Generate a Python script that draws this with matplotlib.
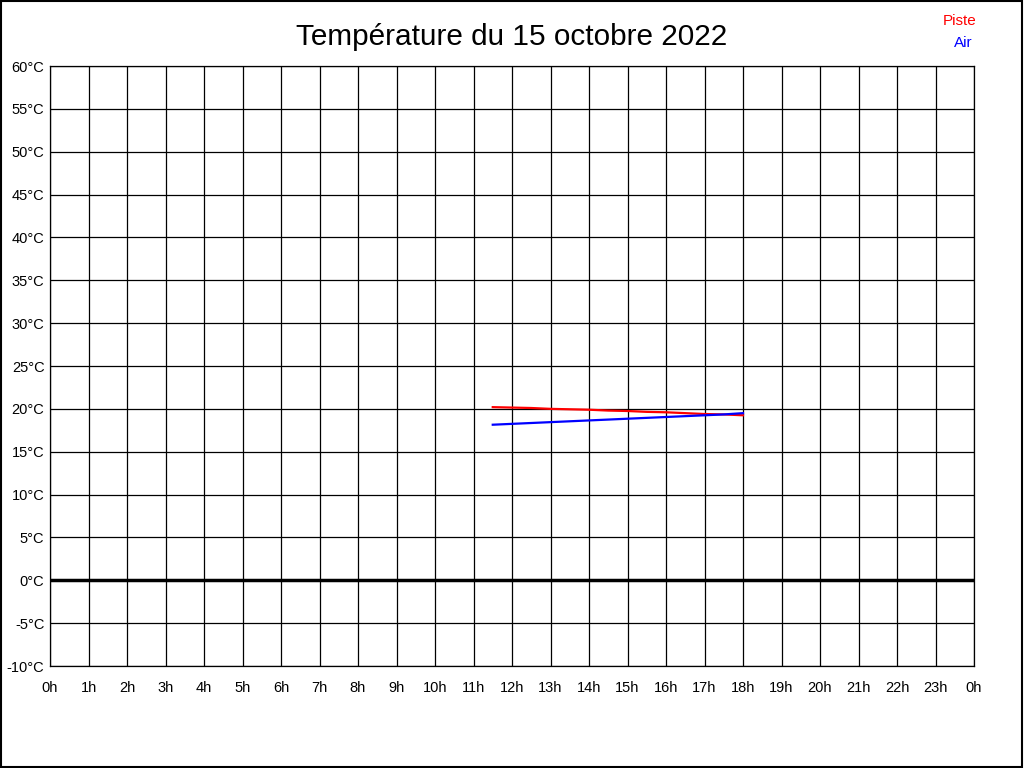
import numpy as np
import matplotlib.pyplot as plt
from matplotlib.patches import Rectangle

plt.rcParams['font.family'] = ['Liberation Sans', 'DejaVu Sans']

# readings (hour of day, °C)
hours = [11.5, 12.0, 12.5, 13.0, 13.5, 14.0, 14.5, 15.0, 15.5, 16.0, 16.5, 17.0, 17.5, 18.0]
piste = [20.2, 20.15, 20.1, 20.0, 19.95, 19.9, 19.8, 19.75, 19.65, 19.6, 19.5, 19.4, 19.35, 19.25]
air = [18.15, 18.25, 18.35, 18.45, 18.55, 18.65, 18.75, 18.85, 18.95, 19.05, 19.15, 19.25, 19.35, 19.5]

xticks = list(range(25))
xlabels = [f"{h % 24}h" for h in xticks]
yticks = list(range(-10, 61, 5))
ylabels = [f"{t}°C" for t in yticks]

fig = plt.figure(figsize=(10.24, 7.68), dpi=100)
ax = fig.add_axes([50/1024, 102/768, 924/1024, 600/768])

ax.plot(hours, piste, color='red', lw=1.6, zorder=3)
ax.plot(hours, air, color='blue', lw=1.6, zorder=3)
ax.axhline(0, color='black', lw=2.5, zorder=2)

ax.set_xlim(0, 24)
ax.set_ylim(-10, 60)
ax.set_xticks(xticks)
ax.set_xticklabels(xlabels)
ax.set_yticks(yticks)
ax.set_yticklabels(ylabels)
ax.tick_params(length=0, labelsize=10.5)
ax.tick_params(axis='x', pad=11)
ax.tick_params(axis='y', pad=4)
ax.grid(True, color='black', lw=0.9)
for s in ax.spines.values():
    s.set_color('black')
    s.set_linewidth(0.9)

fig.text(0.5, 1 - 37/768, "Température du 15 octobre 2022", ha='center', va='center', fontsize=21.4)
fig.text(976/1024, 1 - 21/768, "Piste", color='red', ha='right', va='center', fontsize=11)
fig.text(973/1024, 1 - 43/768, "Air", color='blue', ha='right', va='center', fontsize=11)

fig.patches.append(Rectangle((0.0005, 0.0007), 0.998, 0.998, transform=fig.transFigure,
                             fill=False, edgecolor='black', lw=1.5))

fig.savefig('out.png', dpi=100)
